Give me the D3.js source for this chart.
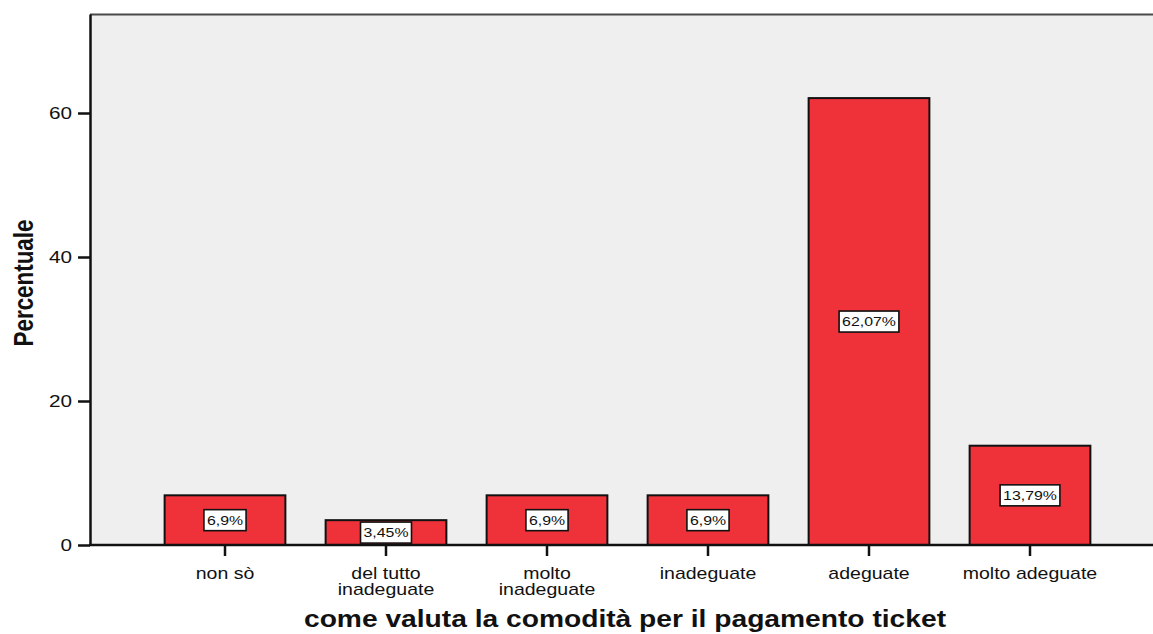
<!DOCTYPE html>
<html>
<head>
<meta charset="utf-8">
<script src="https://cdn.jsdelivr.net/npm/d3@7"></script>
<style>
  html, body { margin: 0; padding: 0; background: #ffffff; }
  svg { display: block; font-family: "Liberation Sans", Arial, sans-serif; }
</style>
</head>
<body>
<svg id="chart" width="1153" height="634"></svg>
<script>
// ---- data ----
const categories = ["non sò", "del tutto\ninadeguate", "molto\ninadeguate", "inadeguate", "adeguate", "molto adeguate"];
const values = [6.9, 3.45, 6.9, 6.9, 62.07, 13.79];
const valueLabels = ["6,9%", "3,45%", "6,9%", "6,9%", "62,07%", "13,79%"];
const yTicks = [0, 20, 40, 60];
const yMax = 73.75;
const xTitle = "come valuta la comodità per il pagamento ticket";
const yTitle = "Percentuale";

// ---- layout ----
const W = 1153, H = 634;
const plot = { left: 90, top: 14, right: 1153, bottom: 545 };
const stretch = 1.22; // horizontal stretch of the reference text

const svg = d3.select("#chart");

const x = d3.scaleBand()
  .domain(categories)
  .range([144.5, 1110.5])
  .paddingInner(0.25)
  .paddingOuter(0.125);

const y = d3.scaleLinear()
  .domain([0, yMax])
  .range([plot.bottom, plot.top]);

// plot background
svg.append("rect")
  .attr("x", plot.left).attr("y", plot.top)
  .attr("width", plot.right - plot.left)
  .attr("height", plot.bottom - plot.top)
  .attr("fill", "#efefef");

// top frame line
svg.append("line")
  .attr("x1", plot.left).attr("x2", plot.right)
  .attr("y1", plot.top + 0.5).attr("y2", plot.top + 0.5)
  .attr("stroke", "#4a4a4a").attr("stroke-width", 2);

// bars
svg.append("g").selectAll("rect")
  .data(values)
  .join("rect")
  .attr("x", (d, i) => x(categories[i]))
  .attr("y", d => y(d))
  .attr("width", x.bandwidth())
  .attr("height", d => y(0) - y(d))
  .attr("fill", "#ef323a")
  .attr("stroke", "#111")
  .attr("stroke-width", 2);

// value labels
const lab = svg.append("g").selectAll("g")
  .data(values)
  .join("g")
  .attr("transform", (d, i) => `translate(${x(categories[i]) + x.bandwidth() / 2},${y(d / 2)})`);

lab.each(function (d, i) {
  const g = d3.select(this);
  const rect = g.append("rect");
  const t = g.append("text")
    .attr("text-anchor", "middle")
    .attr("dy", "0.36em")
    .attr("font-size", 13)
    .attr("fill", "#111")
    .attr("transform", `scale(${stretch},1)`)
    .text(valueLabels[i]);
  const w = t.node().getComputedTextLength() * stretch + 6;
  const h = 21;
  rect.attr("x", -w / 2).attr("y", -h / 2)
    .attr("width", w).attr("height", h)
    .attr("fill", "#ffffff")
    .attr("stroke", "#111")
    .attr("stroke-width", 1.6);
});

// y axis
const yAxis = d3.axisLeft(y).tickValues(yTicks).tickSize(12).tickSizeOuter(0).tickPadding(6);
const gy = svg.append("g").attr("transform", `translate(${plot.left},0)`).call(yAxis);
gy.select(".domain").attr("stroke", "#111").attr("stroke-width", 2.5);
gy.selectAll(".tick line").attr("stroke", "#111").attr("stroke-width", 2.5);
gy.selectAll(".tick text")
  .attr("font-size", 17)
  .attr("fill", "#111")
  .attr("font-family", null)
  .each(function () {
    const t = d3.select(this);
    const xx = +t.attr("x");
    t.attr("x", null).attr("transform", `translate(${xx},0) scale(${stretch},1)`);
  });

// x axis
const xAxis = d3.axisBottom(x).tickSize(11).tickSizeOuter(0).tickPadding(8).tickFormat("");
const gx = svg.append("g").attr("transform", `translate(0,${plot.bottom})`).call(xAxis);
gx.select(".domain").remove();
gx.selectAll(".tick line").attr("stroke", "#111").attr("stroke-width", 2.5);
svg.append("line")
  .attr("x1", plot.left - 1).attr("x2", plot.right)
  .attr("y1", plot.bottom).attr("y2", plot.bottom)
  .attr("stroke", "#111").attr("stroke-width", 2.5);

gx.selectAll(".tick").each(function (d) {
  const lines = d.split("\n");
  const t = d3.select(this).append("text")
    .attr("text-anchor", "middle")
    .attr("font-size", 16)
    .attr("fill", "#111")
    .attr("transform", `translate(0,34) scale(${stretch},1)`);
  lines.forEach((ln, k) => {
    t.append("tspan").attr("x", 0).attr("y", k * 16.5).text(ln);
  });
});

// axis titles
svg.append("text")
  .attr("text-anchor", "middle")
  .attr("font-size", 23.5)
  .attr("font-weight", "bold")
  .attr("fill", "#111")
  .attr("transform", `translate(625,627) scale(1.2,1)`)
  .text(xTitle);

svg.append("text")
  .attr("text-anchor", "middle")
  .attr("font-size", 22.4)
  .attr("font-weight", "bold")
  .attr("fill", "#111")
  .attr("transform", `translate(33,283) rotate(-90) scale(1,1.27)`)
  .text(yTitle);
</script>
</body>
</html>
